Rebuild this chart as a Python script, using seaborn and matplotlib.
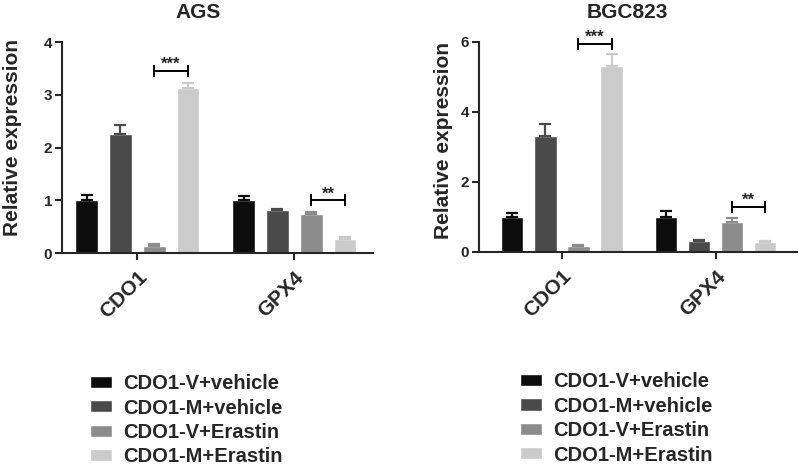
import pandas as pd
import matplotlib
matplotlib.use('Agg')
import matplotlib.pyplot as plt
import seaborn as sns

# gene targets and treatment groups
genes = ['CDO1', 'GPX4']
groups = ['CDO1-V+vehicle', 'CDO1-M+vehicle', 'CDO1-V+Erastin', 'CDO1-M+Erastin']
colors = ['#0c0c0c', '#4a4a4a', '#8c8c8c', '#cbcbcb']

# mean / SEM per gene (rows) and group (columns)
ags_mean = [[1.00, 2.25, 0.14, 3.12], [1.00, 0.81, 0.75, 0.27]]
ags_err = [[0.10, 0.17, 0.03, 0.10], [0.08, 0.02, 0.03, 0.03]]
bgc_mean = [[1.00, 3.32, 0.18, 5.32], [1.00, 0.30, 0.85, 0.28]]
bgc_err = [[0.12, 0.33, 0.03, 0.33], [0.18, 0.04, 0.12, 0.03]]

# significance brackets: gene, group a, group b, height, label
ags_sig = [(0, 2, 3, 3.45, '***'), (1, 2, 3, 1.00, '**')]
bgc_sig = [(0, 2, 3, 5.94, '***'), (1, 2, 3, 1.29, '**')]

sns.set_style('ticks')
plt.rcParams['font.family'] = 'Liberation Sans'
plt.rcParams['font.weight'] = 'bold'
plt.rcParams['axes.labelweight'] = 'bold'
plt.rcParams['axes.titleweight'] = 'bold'


def to_frame(means, errs):
    rows = []
    for gi, g in enumerate(genes):
        for hi, h in enumerate(groups):
            rows.append({'gene': g, 'group': h, 'value': means[gi][hi], 'err': errs[gi][hi]})
    return pd.DataFrame(rows)


def draw_panel(ax, means, errs, sig, title, ymax, yticks, title_x, ylab_xy, xlim):
    df = to_frame(means, errs)
    sns.barplot(data=df, x='gene', y='value', hue='group', order=genes, hue_order=groups,
                palette=colors, width=0.86, gap=0.33, errorbar=None, saturation=1,
                legend=False, ax=ax)
    bar_sets = list(ax.containers)
    # upward-only error bars in the bar colour
    centers = {}
    for hi, cont in enumerate(bar_sets):
        for gi, bar in enumerate(cont):
            cx = bar.get_x() + bar.get_width() / 2
            centers[(gi, hi)] = cx
            e = errs[gi][hi]
            ax.errorbar(cx, means[gi][hi], yerr=[[0], [e]], color=colors[hi],
                        capsize=4, elinewidth=1.6, capthick=1.6, zorder=1)
    for gi, a, b, y, lab in sig:
        x1, x2 = centers[(gi, a)], centers[(gi, b)]
        ax.plot([x1, x2], [y, y], color='black', lw=1.4, clip_on=False)
        ax.plot([x1, x2], [y, y], ls='none', marker='|', ms=8, mew=1.4,
                color='black', clip_on=False)
        ax.text((x1 + x2) / 2, y - ymax * 0.005, lab, ha='center', va='bottom',
                fontsize=12, fontweight='bold', clip_on=False)
    ax.set_xlim(*xlim)
    ax.set_ylim(0, ymax)
    ax.set_yticks(yticks)
    ax.set_xlabel('')
    ax.set_ylabel('Relative expression', fontsize=15, fontweight='bold')
    ax.yaxis.set_label_coords(*ylab_xy)
    ax.set_title(title, fontsize=15, fontweight='bold', x=title_x, pad=17)
    sns.despine(ax=ax)
    for s in ['left', 'bottom']:
        ax.spines[s].set_linewidth(1.5)
    ax.tick_params(axis='y', length=5, width=1.5, labelsize=11, pad=2)
    ax.tick_params(axis='x', length=5, width=1.5, labelsize=15, pad=5.5)
    for t in ax.get_xticklabels():
        t.set_rotation(45)
        t.set_ha('right')
        t.set_va('top')
        t.set_rotation_mode('anchor')
        t.set_fontweight('bold')
    for t in ax.get_yticklabels():
        t.set_fontweight('bold')
    return bar_sets


fig = plt.figure(figsize=(7.99, 4.67), dpi=100)
ax1 = fig.add_axes([0.0776, 0.458, 0.389, 0.452])
ax2 = fig.add_axes([0.5995, 0.4604, 0.398, 0.450])

bars1 = draw_panel(ax1, ags_mean, ags_err, ags_sig, 'AGS', 4, [0, 1, 2, 3, 4], 0.437,
                   (-0.128, 0.55), (-0.48, 1.5))
bars2 = draw_panel(ax2, bgc_mean, bgc_err, bgc_sig, 'BGC823', 6, [0, 2, 4, 6], 0.465,
                   (-0.082, 0.53), (-0.54, 1.53))

for ax, bars, lx, ly in [(ax1, bars1, 0.1126, 0.199), (ax2, bars2, 0.651, 0.203)]:
    ax.legend(bars, groups, loc='upper left', bbox_to_anchor=(lx, ly),
              bbox_transform=fig.transFigure, frameon=False,
              prop={'size': 14.5, 'weight': 'bold'},
              handlelength=1.1, handleheight=0.55, handletextpad=0.55,
              labelspacing=0.27, borderpad=0, borderaxespad=0)

fig.savefig('out.png', dpi=100)
